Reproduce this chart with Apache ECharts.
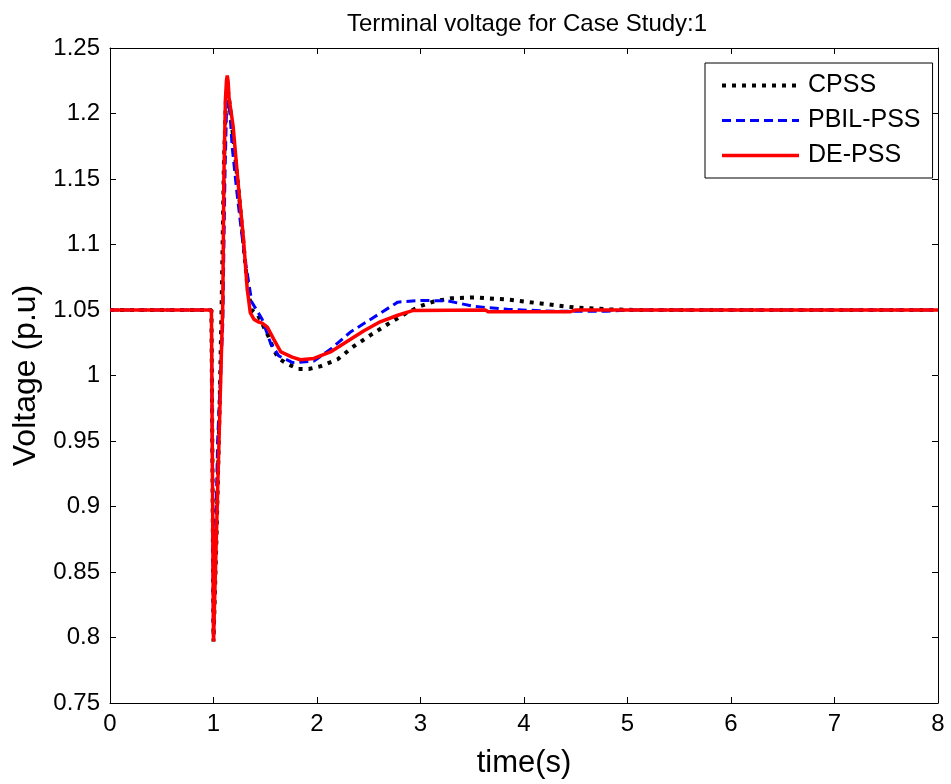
<!DOCTYPE html>
<html>
<head>
<meta charset="utf-8">
<script src="https://cdn.jsdelivr.net/npm/echarts@6/dist/echarts.min.js"></script>
<style>html,body{margin:0;padding:0;background:#fff}#c{width:951px;height:784px}</style>
</head>
<body>
<div id="c"></div>
<script>
const seriesNames = ['CPSS', 'PBIL-PSS', 'DE-PSS'];
const xTicks = [0, 1, 2, 3, 4, 5, 6, 7, 8];
const yTicks = [0.75, 0.8, 0.85, 0.9, 0.95, 1, 1.05, 1.1, 1.15, 1.2, 1.25];

const cpssT = [0, 0.98, 0.99, 1.0, 1.03, 1.06, 1.08, 1.1, 1.12, 1.135, 1.16, 1.2, 1.25, 1.29, 1.33, 1.37, 1.43, 1.48, 1.53, 1.58, 1.63, 1.71, 1.82, 1.92, 2.03, 2.2, 2.35, 2.52, 2.7, 2.87, 3.0, 3.13, 3.3, 3.52, 3.84, 4.16, 4.48, 4.81, 5.1, 8];
const cpssV = [1.05, 1.05, 0.93, 0.797, 0.88, 0.98, 1.06, 1.16, 1.21, 1.22, 1.205, 1.175, 1.135, 1.10, 1.066, 1.05, 1.046, 1.038, 1.03, 1.02, 1.013, 1.009, 1.005, 1.005, 1.007, 1.0124, 1.022, 1.031, 1.04, 1.048, 1.053, 1.0565, 1.059, 1.0596, 1.058, 1.055, 1.052, 1.0505, 1.05, 1.05];

const pbilT = [0, 0.98, 1.0, 1.04, 1.09, 1.11, 1.125, 1.14, 1.16, 1.18, 1.226, 1.27, 1.31, 1.37, 1.47, 1.55, 1.63, 1.76, 1.81, 1.97, 2.13, 2.32, 2.52, 2.78, 3.0, 3.26, 3.52, 3.84, 4.3, 4.8, 5.0, 8];
const pbilV = [1.05, 1.05, 0.797, 0.95, 1.04, 1.15, 1.2, 1.21, 1.2, 1.175, 1.14, 1.11, 1.086, 1.056, 1.043, 1.025, 1.015, 1.01, 1.01, 1.011, 1.02, 1.033, 1.043, 1.056, 1.0573, 1.057, 1.0527, 1.0505, 1.049, 1.049, 1.05, 1.05];

const depssT = [0, 0.98, 1.0, 1.09, 1.10, 1.115, 1.125, 1.133, 1.142, 1.15, 1.19, 1.24, 1.29, 1.326, 1.355, 1.39, 1.43, 1.47, 1.52, 1.58, 1.65, 1.76, 1.84, 1.97, 2.13, 2.29, 2.45, 2.61, 2.78, 2.93, 3.63, 3.65, 4.45, 4.5, 8];
const depssV = [1.05, 1.05, 0.797, 1.056, 1.15, 1.21, 1.225, 1.229, 1.224, 1.212, 1.19, 1.145, 1.104, 1.066, 1.048, 1.043, 1.041, 1.04, 1.037, 1.028, 1.018, 1.014, 1.012, 1.013, 1.018, 1.026, 1.034, 1.041, 1.046, 1.0497, 1.05, 1.0487, 1.0487, 1.05, 1.05];

function pairs(t, v) { return t.map((x, i) => [x, v[i]]); }

const FONT = 'Liberation Sans, Arial, sans-serif';
const chart = echarts.init(document.getElementById('c'), null, {renderer: 'canvas'});

const styles = [
  {color: '#000', width: 4, type: [4, 6]},
  {color: '#0000ff', width: 3, type: [9, 5]},
  {color: '#ff0000', width: 3.5, type: 'solid'}
];

const baseX = {
  type: 'value', min: xTicks[0], max: xTicks[xTicks.length - 1], interval: 1,
  axisLine: {show: true, onZero: false, lineStyle: {color: '#000', width: 1}},
  axisTick: {show: true, inside: true, length: 6, lineStyle: {color: '#000'}},
  splitLine: {show: false}
};
const baseY = {
  type: 'value', min: yTicks[0], max: yTicks[yTicks.length - 1], interval: 0.05,
  axisLine: {show: true, onZero: false, lineStyle: {color: '#000', width: 1}},
  axisTick: {show: true, inside: true, length: 6, lineStyle: {color: '#000'}},
  splitLine: {show: false}
};

chart.setOption({
  animation: false,
  backgroundColor: '#fff',
  title: {
    text: 'Terminal voltage for Case Study:1',
    left: 522, top: 7, textAlign: 'center',
    textStyle: {fontFamily: FONT, fontSize: 24, fontWeight: 'normal', color: '#000'}
  },
  grid: {left: 110, top: 48, right: 13, bottom: 79, containLabel: false},
  legend: {
    data: seriesNames.map((n, i) => ({name: n, lineStyle: styles[i], itemStyle: {opacity: 0}})),
    orient: 'vertical',
    left: 705, top: 63,
    backgroundColor: '#fff',
    borderColor: '#000', borderWidth: 1,
    padding: [10, 12, 10, 15],
    itemWidth: 77, itemHeight: 14, itemGap: 10,
    itemStyle: {opacity: 0},
    textStyle: {fontFamily: FONT, fontSize: 25, color: '#000', padding: [0, 0, 0, 4]}
  },
  xAxis: [
    Object.assign({}, baseX, {
      position: 'bottom',
      name: 'time(s)', nameLocation: 'middle', nameGap: 45,
      nameTextStyle: {fontFamily: FONT, fontSize: 31, color: '#000'},
      axisLabel: {fontFamily: FONT, fontSize: 24, color: '#000', margin: 9}
    }),
    Object.assign({}, baseX, {position: 'top', axisLabel: {show: false}})
  ],
  yAxis: [
    Object.assign({}, baseY, {
      position: 'left',
      name: 'Voltage (p.u)', nameLocation: 'middle', nameGap: 68,
      nameTextStyle: {fontFamily: FONT, fontSize: 32, color: '#000'},
      axisLabel: {fontFamily: FONT, fontSize: 24, color: '#000', margin: 10,
        formatter: v => String(parseFloat(v.toFixed(2)))}
    }),
    Object.assign({}, baseY, {position: 'right', axisLabel: {show: false}})
  ],
  series: [
    {
      name: seriesNames[0], type: 'line', data: pairs(cpssT, cpssV),
      showSymbol: false, symbol: 'none',
      lineStyle: styles[0], itemStyle: {color: styles[0].color}
    },
    {
      name: seriesNames[1], type: 'line', data: pairs(pbilT, pbilV),
      showSymbol: false, symbol: 'none',
      lineStyle: styles[1], itemStyle: {color: styles[1].color}
    },
    {
      name: seriesNames[2], type: 'line', data: pairs(depssT, depssV),
      showSymbol: false, symbol: 'none',
      lineStyle: styles[2], itemStyle: {color: styles[2].color}
    }
  ]
});
</script>
</body>
</html>
